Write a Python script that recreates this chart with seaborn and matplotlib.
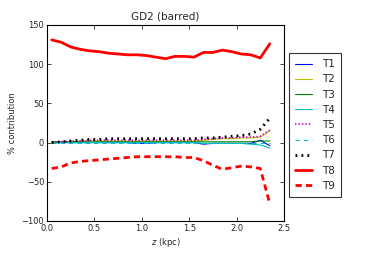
import matplotlib
matplotlib.use("Agg")
import matplotlib.pyplot as plt
import pandas as pd
import seaborn as sns

sns.set_style("white")
plt.rcParams.update({
    "font.family": ["DejaVu Sans"],
    "font.size": 6,
    "xtick.direction": "in",
    "ytick.direction": "in",
    "xtick.top": True,
    "ytick.right": True,
    "xtick.bottom": True,
    "ytick.left": True,
    "xtick.major.size": 3,
    "ytick.major.size": 3,
    "xtick.major.width": 0.6,
    "ytick.major.width": 0.6,
    "xtick.labelsize": 6,
    "ytick.labelsize": 6,
    "axes.edgecolor": "black",
    "axes.linewidth": 0.8,
    "lines.scale_dashes": False,
})

z = [0.05, 0.15, 0.25, 0.35, 0.45, 0.55, 0.65, 0.75, 0.85, 0.95, 1.05, 1.15,
     1.25, 1.35, 1.45, 1.55, 1.65, 1.75, 1.85, 1.95, 2.05, 2.15, 2.25, 2.35]

t1 = [0, 0, 0, 0, 0, 0, 0, 0, 0, -1, -1, 0, 0, 0, 0, 0, -2, -1, -1, -1, -1, -1, 3, -4]
t2 = [1, 1, 1, 2, 2, 2, 2, 2, 2, 2, 2, 2, 2, 2, 2, 2, 3, 4, 5, 5, 6, 6, 7, 15]
t3 = [1, 1, 1, 1, 1, 1, 1, 1, 1, 1, 1, 1, 1, 1, 1, 1, 1, 1, 1, 1, 1, 1, 2, 2]
t4 = [0, 0, 0, 0, 0, 0, 0, 0, 0, 0, 0, 0, 0, 0, 0, 0, -1, -1, -1, -1, -1, -2, -3, -7]
t5 = [1, 1, 2, 2, 3, 3, 3, 3, 3, 3, 3, 3, 3, 3, 3, 3, 4, 5, 6, 6, 7, 7, 8, 16]
t6 = [0, 0, 0, 0, 0, 0, 0, 0, 0, 0, 0, 0, 0, 0, 0, 0, 0, 0, 0, 0, 0, 0, 0, 0]
t7 = [0, 1, 2, 3, 4, 4, 5, 5, 5, 5, 5, 5, 5, 5, 5, 5, 6, 6, 7, 8, 9, 11, 17, 31]
t8 = [131, 128, 122, 119, 117, 116, 114, 113, 112, 112, 111, 109, 107, 110, 110,
      109, 115, 115, 118, 116, 113, 112, 108, 126]
t9 = [-33, -31, -26, -24, -23, -22, -21, -20, -19, -18, -18, -18, -18, -18, -19,
      -19, -23, -29, -34, -32, -30, -31, -33, -78]

names = ["T1", "T2", "T3", "T4", "T5", "T6", "T7", "T8", "T9"]
series = [t1, t2, t3, t4, t5, t6, t7, t8, t9]
colors = ["blue", "y", "green", "c", "m", "c", "black", "red", "red"]
dashes = [None, None, None, None, (1, 1.5), (3, 3), (1.3, 3), None, (4.5, 3)]
widths = [0.8, 0.8, 0.8, 0.8, 1.2, 0.8, 2.0, 2.0, 2.0]

df = pd.DataFrame({"z": z * len(names),
                   "val": sum(series, []),
                   "term": [n for n in names for _ in z]})

fig = plt.figure(figsize=(3.82, 2.54), dpi=100)
ax = fig.add_axes([47 / 382, 1 - 221 / 254, (284 - 47) / 382, (221 - 25) / 254])

for name, col, dsh, lw in zip(names, colors, dashes, widths):
    kw = {} if dsh is None else {"dashes": dsh}
    sns.lineplot(data=df[df["term"] == name], x="z", y="val", ax=ax, color=col,
                 linewidth=lw, label=name, **kw)

ax.set_xlim(0, 2.5)
ax.set_ylim(-100, 150)
ax.set_xticks([0.0, 0.5, 1.0, 1.5, 2.0, 2.5])
ax.set_xticklabels(["0.0", "0.5", "1.0", "1.5", "2.0", "2.5"])
ax.set_yticks([-100, -50, 0, 50, 100, 150])
ax.tick_params(pad=2)
ax.set_title("GD2 (barred)", fontsize=7.5, pad=4)
ax.set_xlabel("$z$ (kpc)", fontsize=6, labelpad=2)
ax.set_ylabel("% contribution", fontsize=6, labelpad=3)

leg = ax.legend(loc="upper left", bbox_to_anchor=(289 / 382, 1 - 53 / 254),
                bbox_transform=fig.transFigure, borderaxespad=0, fontsize=7.5,
                frameon=True, fancybox=False, handlelength=1.6, borderpad=0.6,
                labelspacing=0.5, handletextpad=1.0)
leg.get_frame().set_edgecolor("black")
leg.get_frame().set_linewidth(0.8)

fig.savefig("out.png", dpi=100)
